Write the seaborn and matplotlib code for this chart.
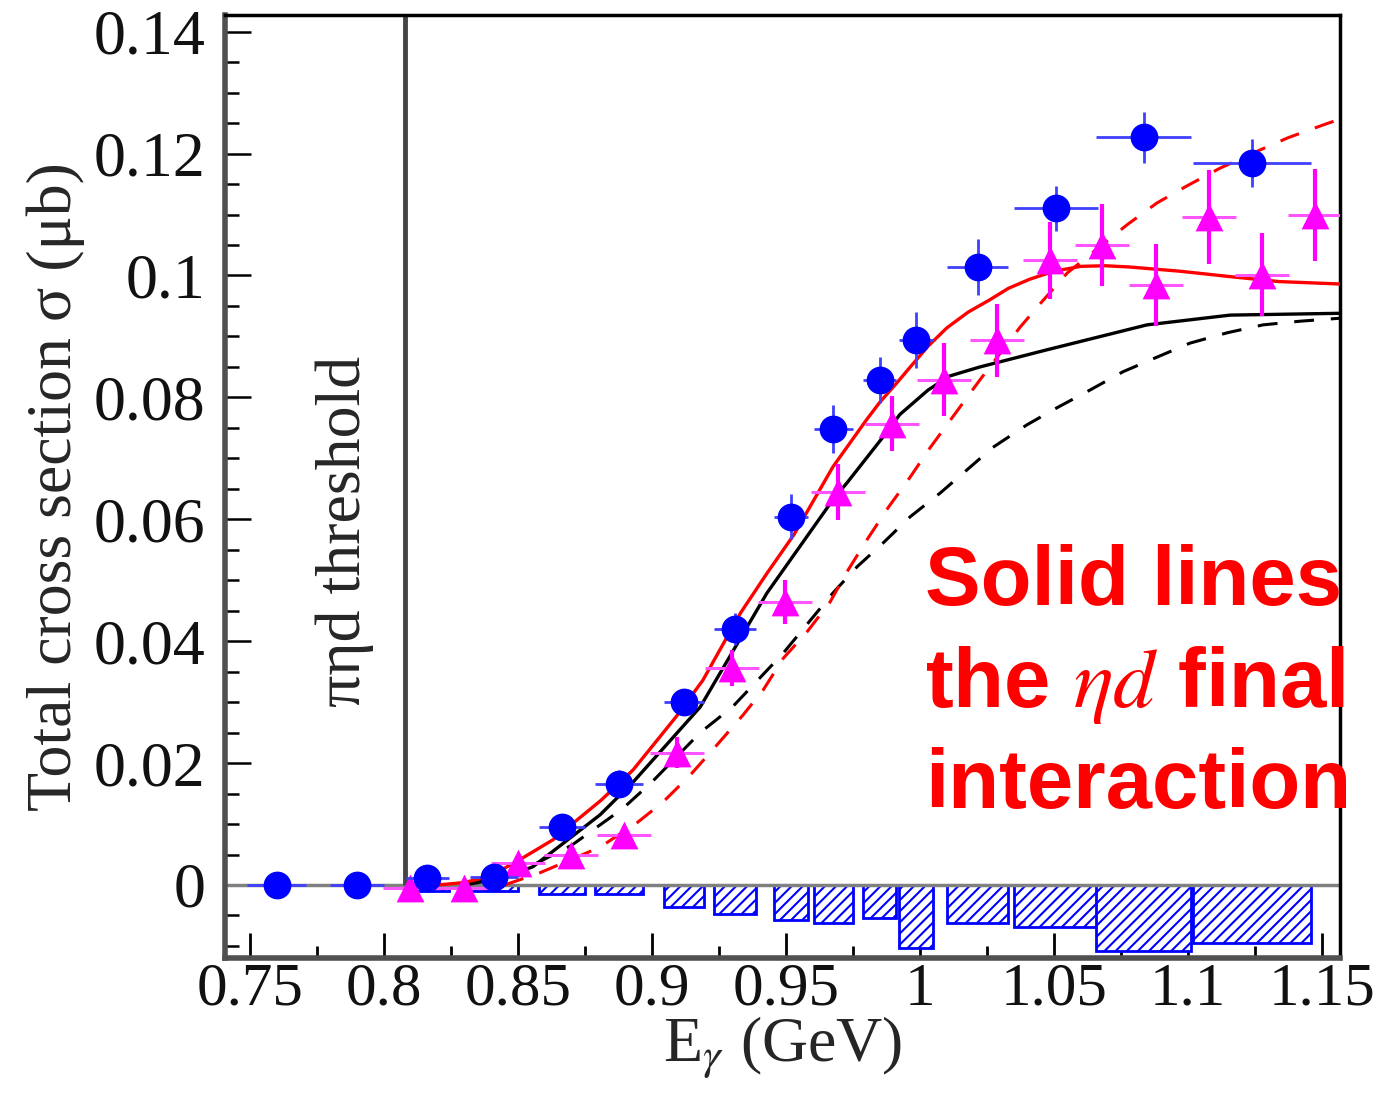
import numpy as np
import matplotlib
matplotlib.use("Agg")
import matplotlib.pyplot as plt
import seaborn as sns

# ---------------- data ----------------
# blue circles (data set 1)
blue_x = [0.760, 0.790, 0.8162, 0.8412, 0.8666, 0.8877, 0.9120, 0.9310, 0.9520, 0.9677, 0.9850, 0.9986, 1.0215, 1.0508, 1.0834, 1.1240]
blue_y = [0.0, 0.0, 0.0011, 0.0013, 0.0095, 0.0166, 0.0300, 0.0420, 0.0604, 0.0748, 0.0829, 0.0894, 0.1014, 0.1110, 0.1227, 0.1185]
blue_xerr = [0.011, 0.010, 0.008, 0.009, 0.0086, 0.009, 0.0075, 0.0079, 0.0064, 0.0074, 0.0062, 0.0064, 0.0113, 0.0157, 0.0176, 0.022]
blue_yerr = [0.0, 0.0, 0.0008, 0.001, 0.0018, 0.0022, 0.002, 0.0026, 0.0037, 0.004, 0.0038, 0.0046, 0.0046, 0.0037, 0.0042, 0.0039]
blue_sys = [0.0, 0.0, -0.001, -0.001, -0.0015, -0.0015, -0.0036, -0.0048, -0.0057, -0.0062, -0.0054, -0.0103, -0.0062, -0.0069, -0.0108, -0.0095]

# magenta triangles (data set 2)
mag_x = [0.8097, 0.8299, 0.8500, 0.8698, 0.8896, 0.9093, 0.9299, 0.9496, 0.9694, 0.9896, 1.0090, 1.0287, 1.0485, 1.0679, 1.0880, 1.1078, 1.1276, 1.1474]
mag_y = [-0.0005, -0.0005, 0.0036, 0.0049, 0.0082, 0.0217, 0.0356, 0.0464, 0.0645, 0.0757, 0.0829, 0.0894, 0.1025, 0.1050, 0.0984, 0.1096, 0.1001, 0.1099]
mag_xerr = [0.01] * 18
mag_yerr = [0.0, 0.0, 0.0008, 0.001, 0.0015, 0.0025, 0.003, 0.0036, 0.0046, 0.0045, 0.006, 0.006, 0.0063, 0.0067, 0.0067, 0.0077, 0.0068, 0.0075]

# model curves
rs_x = [0.820, 0.830, 0.840, 0.852, 0.863, 0.881, 0.893, 0.909, 0.919, 0.933, 0.943, 0.953, 0.9675, 0.980, 0.985, 0.991, 0.996, 1.003, 1.010, 1.018, 1.026, 1.033, 1.041, 1.050, 1.060, 1.069, 1.078, 1.097, 1.116, 1.134, 1.157]
rs_y = [0.0, 0.0004, 0.0015, 0.0045, 0.0074, 0.0139, 0.0189, 0.0276, 0.0336, 0.0446, 0.0512, 0.0575, 0.0686, 0.0763, 0.0792, 0.0822, 0.0848, 0.0884, 0.0914, 0.0940, 0.0960, 0.0979, 0.0994, 0.1007, 0.1015, 0.1016, 0.1014, 0.1007, 0.0998, 0.0990, 0.0986]

bs_x = [0.830, 0.845, 0.8556, 0.8806, 0.893, 0.918, 0.9429, 0.9675, 0.9728, 0.9862, 0.9925, 1.003, 1.011, 1.0224, 1.0473, 1.0847, 1.1157, 1.157]
bs_y = [0.0, 0.0012, 0.003, 0.0115, 0.0169, 0.0292, 0.0479, 0.0632, 0.0660, 0.0735, 0.0772, 0.0812, 0.0835, 0.0850, 0.0878, 0.0919, 0.0935, 0.0938]

bd_x = [0.830, 0.850, 0.870, 0.889, 0.900, 0.918, 0.930, 0.9489, 0.9675, 0.9765, 0.9862, 0.9963, 1.0075, 1.0175, 1.0272, 1.0399, 1.0511, 1.0634, 1.0757, 1.0884, 1.1007, 1.1146, 1.128, 1.1418, 1.157]
bd_y = [0.0, 0.002, 0.0065, 0.0125, 0.0169, 0.025, 0.0292, 0.038, 0.0479, 0.0522, 0.0561, 0.0604, 0.0643, 0.0681, 0.0718, 0.0755, 0.0783, 0.0812, 0.0842, 0.0866, 0.0889, 0.0906, 0.0919, 0.0925, 0.0930]

rd_x = [0.845, 0.8582, 0.8806, 0.8944, 0.9041, 0.9142, 0.9235, 0.934, 0.9415, 0.949, 0.9578, 0.9664, 0.9732, 0.9806, 0.9881, 0.9963, 1.0037, 1.0224, 1.0373, 1.0455, 1.0549, 1.0772, 1.0884, 1.100, 1.1119, 1.1269, 1.1373, 1.1504, 1.157]
rd_y = [0.0, 0.002, 0.0062, 0.0102, 0.0136, 0.018, 0.0226, 0.0279, 0.032, 0.0372, 0.0415, 0.0464, 0.0517, 0.0569, 0.0619, 0.0669, 0.0717, 0.0829, 0.0915, 0.0957, 0.1004, 0.1083, 0.1119, 0.1148, 0.1176, 0.1206, 0.1226, 0.1247, 0.1257]

threshold_x = 0.808
x_ticks = [0.75, 0.80, 0.85, 0.90, 0.95, 1.00, 1.05, 1.10, 1.15]
x_ticklabels = ["0.75", "0.8", "0.85", "0.9", "0.95", "1", "1.05", "1.1", "1.15"]
y_ticks = [0.0, 0.02, 0.04, 0.06, 0.08, 0.10, 0.12, 0.14]
y_ticklabels = ["0", "0.02", "0.04", "0.06", "0.08", "0.1", "0.12", "0.14"]

# ---------------- style ----------------
sns.set_theme(style="white")
plt.rcParams["font.family"] = ["Liberation Serif", "DejaVu Serif"]
plt.rcParams["mathtext.fontset"] = "stix"
plt.rcParams["hatch.linewidth"] = 1.5

W, H = 1373, 1095
fig = plt.figure(figsize=(W / 100, H / 100), dpi=100)
ax = fig.add_axes([225 / W, 1 - 958 / H, (1340 - 225) / W, (958 - 15) / H])
ax.set_facecolor("white")

# systematic error boxes
bx = [x for x, s in zip(blue_x, blue_sys) if s < 0]
bw = [2 * e for e, s in zip(blue_xerr, blue_sys) if s < 0]
bh = [s for s in blue_sys if s < 0]
ax.bar(bx, bh, width=bw, bottom=0, facecolor="white", edgecolor="#0000ff",
       hatch="///", linewidth=2.0, zorder=1.5)

# zero line & threshold line
ax.axhline(0, color="#808080", lw=2.5, zorder=2)
ax.vlines(threshold_x, 0, 0.1427, color="#454545", lw=3.5, zorder=2)

# curves
sns.lineplot(x=bd_x, y=bd_y, ax=ax, color="black", lw=2.2, sort=False, estimator=None, zorder=3)
ax.lines[-1].set_linestyle((0, (6.5, 5.5)))
sns.lineplot(x=rd_x, y=rd_y, ax=ax, color="#ff0000", lw=2.2, sort=False, estimator=None, zorder=3)
ax.lines[-1].set_linestyle((0, (6.5, 5.5)))
sns.lineplot(x=bs_x, y=bs_y, ax=ax, color="black", lw=2.4, sort=False, estimator=None, zorder=3)
sns.lineplot(x=rs_x, y=rs_y, ax=ax, color="#ff0000", lw=2.4, sort=False, estimator=None, zorder=3)

# magenta data
ax.errorbar(mag_x, mag_y, xerr=mag_xerr, fmt="none", ecolor="#ff55ff", elinewidth=2.2, capsize=0, zorder=4)
ax.errorbar(mag_x, mag_y, yerr=mag_yerr, fmt="none", ecolor="#ff00ff", elinewidth=3.0, capsize=0, zorder=4)
sns.scatterplot(x=mag_x, y=mag_y, ax=ax, marker="^", s=20 ** 2, color="#ff00ff", linewidth=0, zorder=5)

# blue data
ax.errorbar(blue_x, blue_y, xerr=blue_xerr, yerr=blue_yerr, fmt="none", ecolor="#4040ff",
            elinewidth=2.0, capsize=0, zorder=6)
sns.scatterplot(x=blue_x, y=blue_y, ax=ax, marker="o", s=20 ** 2, color="#0000ff", linewidth=0, zorder=7)

# axes
ax.set_xlim(0.7407, 1.1567)
ax.set_ylim(-0.01198, 0.14274)
ax.set_xticks(x_ticks)
ax.set_xticklabels(x_ticklabels)
ax.set_yticks(y_ticks)
ax.set_yticklabels(y_ticklabels)
ax.set_xticks(np.arange(0.775, 1.15, 0.05), minor=True)
ax.set_yticks(np.arange(-0.01, 0.1401, 0.005), minor=True)
ax.tick_params(which="both", direction="in", bottom=True, left=True, top=False, right=False,
               color="black", labelcolor="#111111")
ax.tick_params(axis="y", which="major", length=19, width=1.8, pad=14, labelsize=46)
ax.tick_params(axis="y", which="minor", length=10, width=1.8)
ax.tick_params(axis="x", which="major", length=18, width=2.0, pad=3, labelsize=44)
ax.tick_params(axis="x", which="minor", length=9, width=2.0)

for side in ["left", "bottom"]:
    ax.spines[side].set_color("#505050")
    ax.spines[side].set_linewidth(4)
for side in ["top", "right"]:
    ax.spines[side].set_color("black")
    ax.spines[side].set_linewidth(2.5)
ax.grid(False)

ax.set_xlabel(r"E$_{\gamma}$ (GeV)", fontsize=46, labelpad=-2)
ax.set_ylabel("Total cross section σ (μb)", fontsize=46, labelpad=6)

ax.text(0.7854, 0.058, "πηd threshold", rotation=90, ha="center", va="center", fontsize=46, zorder=3)

# annotation
fig.text(925 / W, 1 - 605 / H, "Solid lines", color="#ff0000", fontsize=60, fontweight="bold",
         family="Liberation Sans", ha="left", va="baseline")
fig.text(925 / W, 1 - 707 / H, r"the $\eta d$ final", color="#ff0000", fontsize=60, fontweight="bold",
         family="Liberation Sans", ha="left", va="baseline")
fig.text(925 / W, 1 - 808 / H, "interaction", color="#ff0000", fontsize=60, fontweight="bold",
         family="Liberation Sans", ha="left", va="baseline")

fig.savefig("out.png", dpi=100, facecolor="white")
